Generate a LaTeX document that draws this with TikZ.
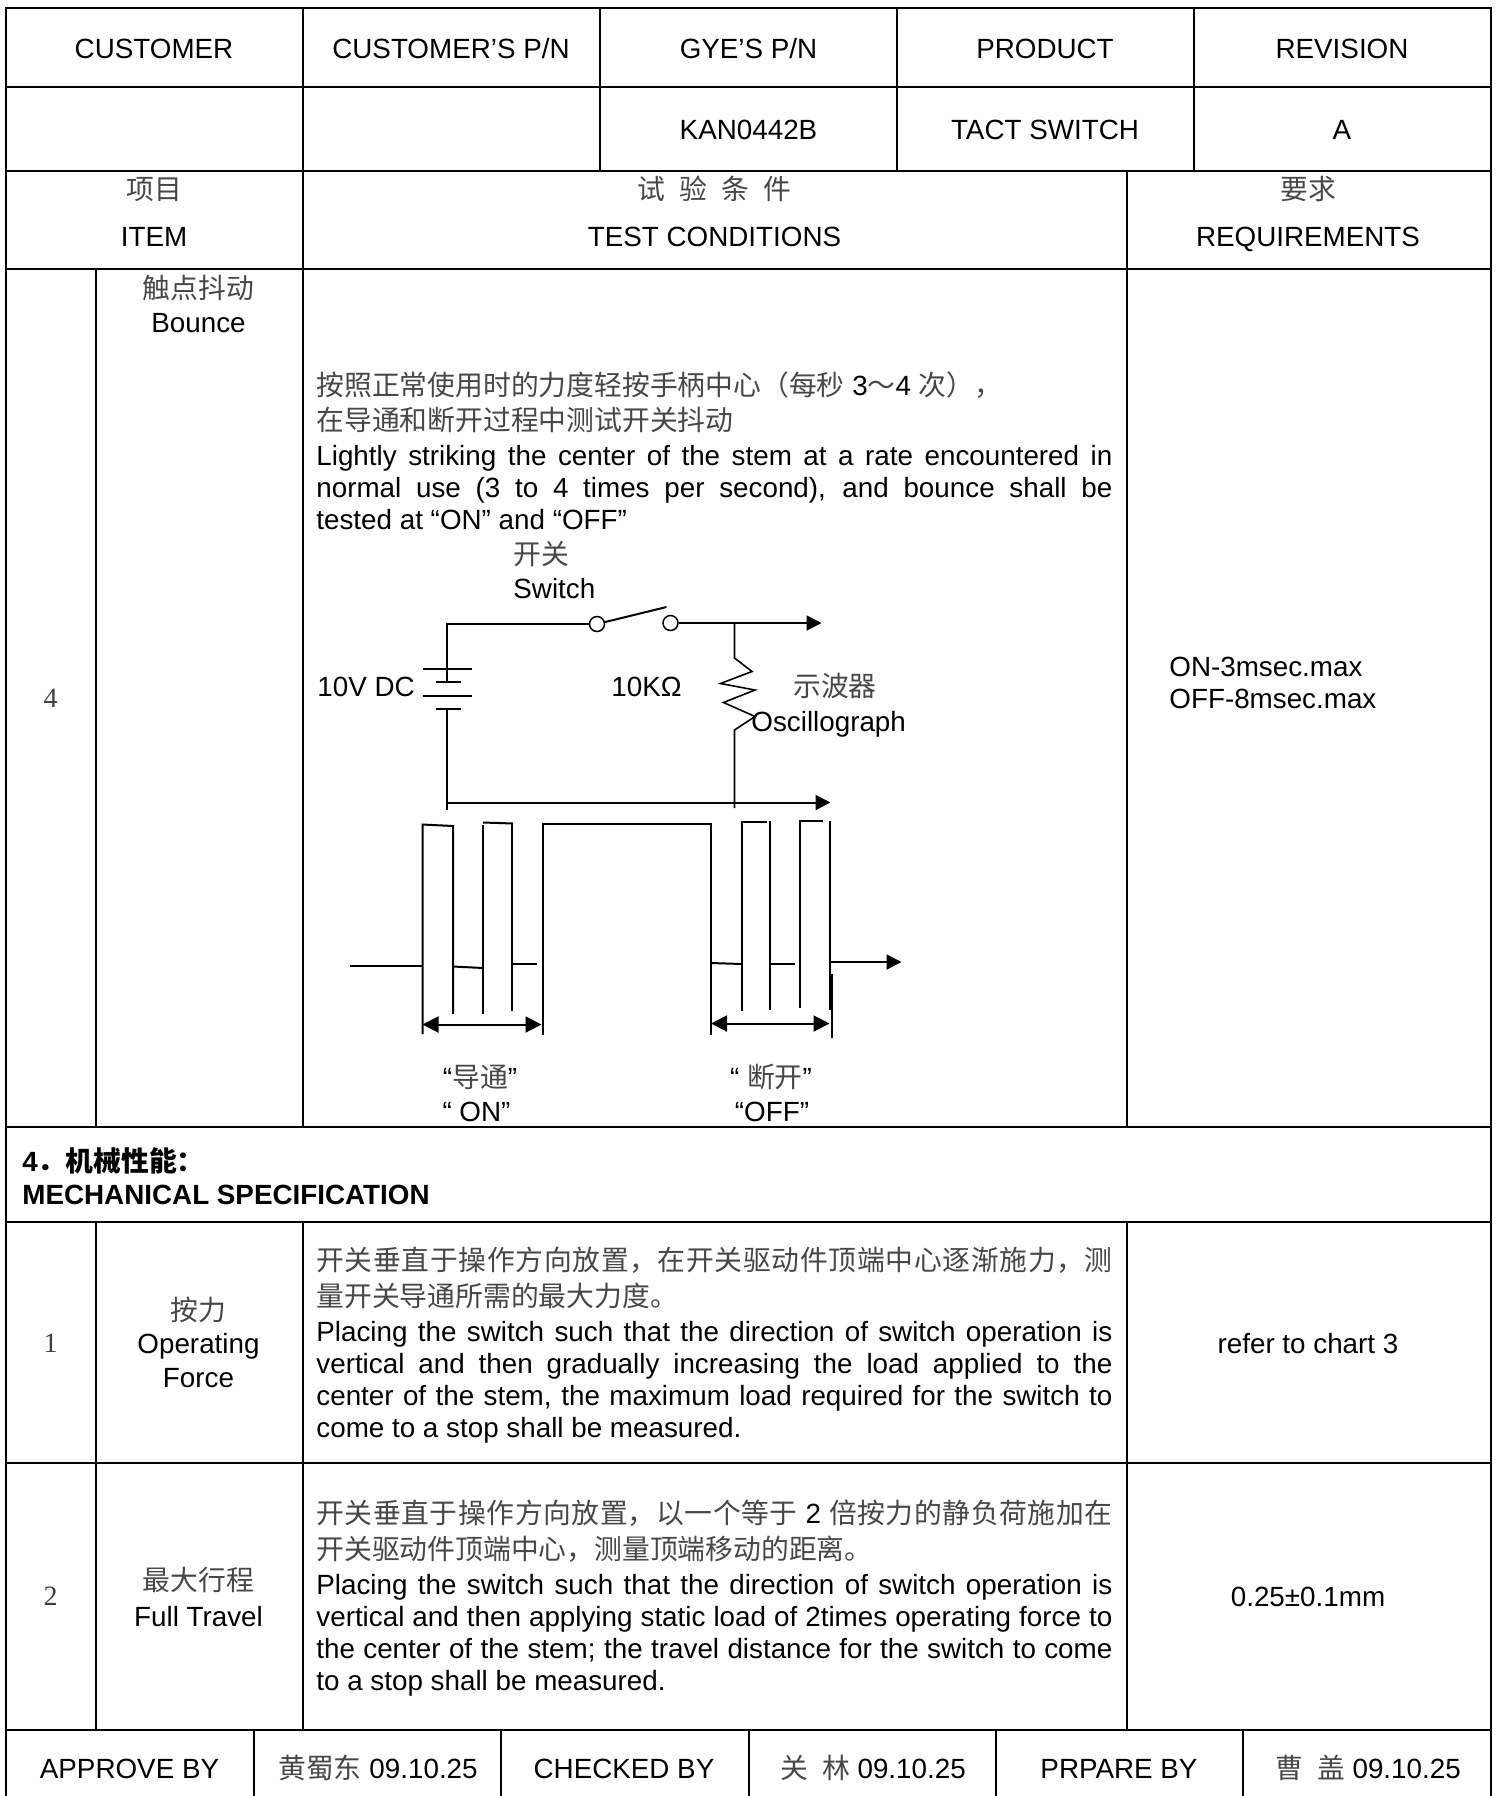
\documentclass[tikz,border=0pt]{standalone}
\usepackage{fontspec}
\setmainfont{Liberation Sans}
\newfontfamily\cjkfont{Noto Sans CJK SC}
\newfontfamily\numfont{Liberation Serif}
\usetikzlibrary{arrows.meta}
\XeTeXlinebreaklocale "zh"
\XeTeXlinebreakskip=0pt plus 3pt
\newcommand{\zh}[1]{{\cjkfont\color{black!72}#1}}
\tikzset{
  rule/.style={line width=1.2pt, line cap=rect},
  wire/.style={line width=1pt},
  thinwire/.style={line width=0.8pt},
  tipwire/.style={wire, -{Triangle[length=7.5pt, width=7.5pt]}},
  dimwire/.style={wire, {Triangle[length=8pt, width=8pt]}-{Triangle[length=8pt, width=8pt]}},
  txt/.style={inner sep=0pt, font=\fontsize{13.9}{16}\selectfont},
  cell/.style={txt, text height=10pt, text depth=0pt},
  para/.style={txt, anchor=north west, text width=398pt, align=justify},
  zhpara/.style={para, font=\fontsize{13.9}{17.75}\selectfont},
  num/.style={inner sep=0pt, font=\fontsize{14}{16}\numfont, text=black!75},
  contact/.style={circle, draw, line width=0.75pt, fill=white, inner sep=0pt, minimum size=7.5pt},
}
\begin{document}
\begin{tikzpicture}[x=0.5pt, y=-0.5pt]
  \useasboundingbox (0, 0) rectangle (1498, 1796);
  % Table
  \draw[rule] (6, 8) -- (1491, 8);
  \draw[rule] (6, 87) -- (1491, 87);
  \draw[rule] (6, 171) -- (1491, 171);
  \draw[rule] (6, 269) -- (1491, 269);
  \draw[rule] (6, 1127) -- (1491, 1127);
  \draw[rule] (6, 1222) -- (1491, 1222);
  \draw[rule] (6, 1463) -- (1491, 1463);
  \draw[rule] (6, 1730) -- (1491, 1730);
  \draw[rule] (6, 8) -- (6, 1796);
  \draw[rule] (1491, 8) -- (1491, 1796);
  \draw[rule] (303, 8) -- (303, 1127);
  \draw[rule] (600, 8) -- (600, 171);
  \draw[rule] (897, 8) -- (897, 171);
  \draw[rule] (1194, 8) -- (1194, 171);
  \draw[rule] (1127, 171) -- (1127, 1127);
  \draw[rule] (96, 269) -- (96, 1127);
  \draw[rule] (96, 1222) -- (96, 1730);
  \draw[rule] (303, 1222) -- (303, 1730);
  \draw[rule] (1127, 1222) -- (1127, 1730);
  \draw[rule] (254, 1730) -- (254, 1796);
  \draw[rule] (501, 1730) -- (501, 1796);
  \draw[rule] (749, 1730) -- (749, 1796);
  \draw[rule] (996, 1730) -- (996, 1796);
  \draw[rule] (1243, 1730) -- (1243, 1796);
  % Header
  \node (customer) [cell] at (154, 48) {CUSTOMER};
  \node (customer-pn) [cell] at (451, 48) {CUSTOMER’S P/N};
  \node (gye-pn) [cell] at (748.5, 48) {GYE’S P/N};
  \node (product) [cell] at (1045, 48) {PRODUCT};
  \node (revision) [cell] at (1342, 48) {REVISION};
  \node (gye-pn-val) [cell] at (748.5, 129.5) {KAN0442B};
  \node (product-val) [cell] at (1045, 129.5) {TACT SWITCH};
  \node (revision-val) [cell] at (1342, 129.5) {A};
  \node (item-zh) [cell] at (154, 189) {\zh{项目}};
  \node (item) [cell] at (154, 236) {ITEM};
  \node (cond-zh) [cell] at (714.5, 189) {\zh{试\hspace{7pt}验\hspace{7pt}条\hspace{7pt}件}};
  \node (cond) [cell] at (714.5, 236) {TEST CONDITIONS};
  \node (req-zh) [cell] at (1308, 189) {\zh{要求}};
  \node (req) [cell] at (1308, 236) {REQUIREMENTS};
  % Bounce
  \node (bounce-num) [num] at (50.5, 698.5) {4};
  \node (bounce-zh) [cell] at (198.5, 288) {\zh{触点抖动}};
  \node (bounce) [cell] at (198.5, 322) {Bounce};
  \node (bounce-cond-zh) [zhpara] at (316, 371) {\zh{按照正常使用时的力度轻按手柄中心（每秒} 3\zh{～}4 \zh{次），}\\ \zh{在导通和断开过程中测试开关抖动}};
  \node (bounce-cond) [para] at (316, 444.5) {Lightly striking the center of the stem at a rate encountered in\linebreak normal use (3 to 4 times per second), and bounce shall be\linebreak tested at “ON” and “OFF”};
  \node (bounce-req) [cell, anchor=west] at (1169, 666.5) {ON-3msec.max};
  \node (bounce-req-off) [cell, anchor=west] at (1169, 698.5) {OFF-8msec.max};
  % Circuit
  \node (switch-zh) [cell] at (541, 554) {\zh{开关}};
  \node (switch) [cell, anchor=west] at (513, 588) {Switch};
  \node (source) [cell, anchor=west] at (317, 686) {10V DC};
  \node (load) [cell, anchor=west] at (611, 686) {10KΩ};
  \node (scope-zh) [cell] at (835, 686) {\zh{示波器}};
  \node (scope) [cell, anchor=west] at (751, 721) {Oscillograph};
  \node (contact-l) [contact] at (597, 624) {};
  \node (contact-r) [contact] at (670.5, 623) {};
  \coordinate (corner) at (447, 624);
  \coordinate (plate-a) at (447, 669);
  \coordinate (plate-b) at (447, 682);
  \coordinate (plate-c) at (447, 709);
  \coordinate (rail-end) at (447, 810);
  \coordinate (rail-l) at (447, 802.5);
  \coordinate (rail-r) at (830.5, 802.5);
  \coordinate (out-tap) at (734.5, 623);
  \coordinate (out-r) at (821.5, 623);
  \coordinate (res-top) at (734.5, 658);
  \coordinate (res-bot) at (734.5, 730);
  \coordinate (res-end) at (734.5, 808);
  \coordinate (blade-end) at (666.5, 607);
  \draw[wire] (contact-l) -- (corner) -- (plate-a);
  \draw[wire] (plate-c) -- (rail-end);
  \draw[wire] (plate-a) -- (plate-b);
  \draw[wire] (contact-l) -- (blade-end);
  \draw[tipwire] (contact-r) -- (out-r);
  \draw[tipwire] (rail-l) -- (rail-r);
  \draw[thinwire] (out-tap) -- (res-top) -- (752, 671.5) -- (720.5, 683.5) -- (755, 690) -- (723.5, 702.5) -- (755, 716.5) -- (res-bot) -- (res-end);
  \draw[wire] (422.5, 669) -- (471.5, 669);
  \draw[wire] (435.5, 682) -- (460.5, 682);
  \draw[wire] (422.5, 696) -- (471.5, 696);
  \draw[wire] (435.5, 709) -- (460.5, 709);
  % Pulse
  \coordinate (out-start) at (830, 962);
  \coordinate (out-end) at (901.5, 962);
  \coordinate (on-l) at (422.5, 1024.5);
  \coordinate (on-r) at (541.5, 1024.5);
  \coordinate (off-l) at (711, 1023.5);
  \coordinate (off-r) at (829.5, 1023.5);
  \draw[wire] (350, 965.5) -- (422.5, 965.5);
  \draw[wire] (422.5, 1034) -- (422.5, 824.5) -- (453, 826) -- (453, 1014);
  \draw[wire] (453, 966.5) -- (483, 968);
  \draw[wire] (483, 1014) -- (483, 825);
  \draw[wire] (483, 822.5) -- (513, 823.5);
  \draw[wire] (512, 823.5) -- (512, 1010.5);
  \draw[wire] (512, 964) -- (537, 964);
  \draw[wire] (543, 1034.5) -- (543, 824) -- (711, 824) -- (711, 1035);
  \draw[wire] (711, 963) -- (741.5, 964);
  \draw[wire] (741.5, 1010.5) -- (741.5, 821.5) -- (766.5, 821.5);
  \draw[wire] (769.5, 821) -- (769.5, 1009.5);
  \draw[wire] (769.5, 964) -- (795, 964);
  \draw[wire] (799.5, 1008) -- (799.5, 820.5) -- (823, 820.5);
  \draw[wire] (830, 821) -- (830, 1009.5);
  \draw[wire] (831.5, 974) -- (831.5, 1037.5);
  \draw[tipwire] (out-start) -- (out-end);
  \draw[dimwire] (on-l) -- (on-r);
  \draw[dimwire] (off-l) -- (off-r);
  \node (on-zh) [cell] at (480, 1077) {“\zh{导通}”};
  \node (on) [cell] at (476.5, 1111.5) {“ ON”};
  \node (off-zh) [cell] at (771, 1077) {“ \zh{断开}”};
  \node (off) [cell] at (772, 1111.5) {“OFF”};
  % Mechanical
  \node (mech-zh) [cell, anchor=west, font=\fontsize{13.9}{16}\bfseries] at (22, 1161) {4{\cjkfont ．机械性能：}};
  \node (mech) [cell, anchor=west, font=\fontsize{13.9}{16}\bfseries] at (22, 1194.5) {MECHANICAL SPECIFICATION};
  \node (force-num) [num] at (50.5, 1343.5) {1};
  \node (force-zh) [cell] at (198.5, 1310) {\zh{按力}};
  \node (force-a) [cell] at (198.5, 1343) {Operating};
  \node (force-b) [cell] at (198.5, 1377) {Force};
  \node (force-cond-zh) [zhpara] at (316, 1247) {\zh{开关垂直于操作方向放置，在开关驱动件顶端中心逐渐施力，测}\linebreak \zh{量开关导通所需的最大力度。}};
  \node (force-cond) [para] at (316, 1321) {Placing the switch such that the direction of switch operation is\linebreak vertical and then gradually increasing the load applied to the\linebreak center of the stem, the maximum load required for the switch to\linebreak come to a stop shall be measured.};
  \node (force-req) [cell] at (1308, 1343.5) {refer to chart 3};
  \node (travel-num) [num] at (50.5, 1596.5) {2};
  \node (travel-zh) [cell] at (198.5, 1580.5) {\zh{最大行程}};
  \node (travel) [cell] at (198.5, 1616) {Full Travel};
  \node (travel-cond-zh) [zhpara] at (316, 1500) {\zh{开关垂直于操作方向放置，以一个等于} 2 \zh{倍按力的静负荷施加在}\linebreak \zh{开关驱动件顶端中心，测量顶端移动的距离。}};
  \node (travel-cond) [para] at (316, 1574) {Placing the switch such that the direction of switch operation is\linebreak vertical and then applying static load of 2times operating force to\linebreak the center of the stem; the travel distance for the switch to come\linebreak to a stop shall be measured.};
  \node (travel-req) [cell] at (1308, 1596.5) {0.25±0.1mm};
  % Footer
  \node (approve) [cell] at (129.5, 1768) {APPROVE BY};
  \node (approve-val) [cell] at (378, 1768) {\zh{黄蜀东} 09.10.25};
  \node (checked) [cell] at (624, 1768) {CHECKED BY};
  \node (checked-val) [cell] at (873, 1768) {\zh{关\hspace{7pt}林} 09.10.25};
  \node (prepare) [cell] at (1119, 1768) {PRPARE BY};
  \node (prepare-val) [cell] at (1368, 1768) {\zh{曹\hspace{7pt}盖} 09.10.25};
\end{tikzpicture}
\end{document}
